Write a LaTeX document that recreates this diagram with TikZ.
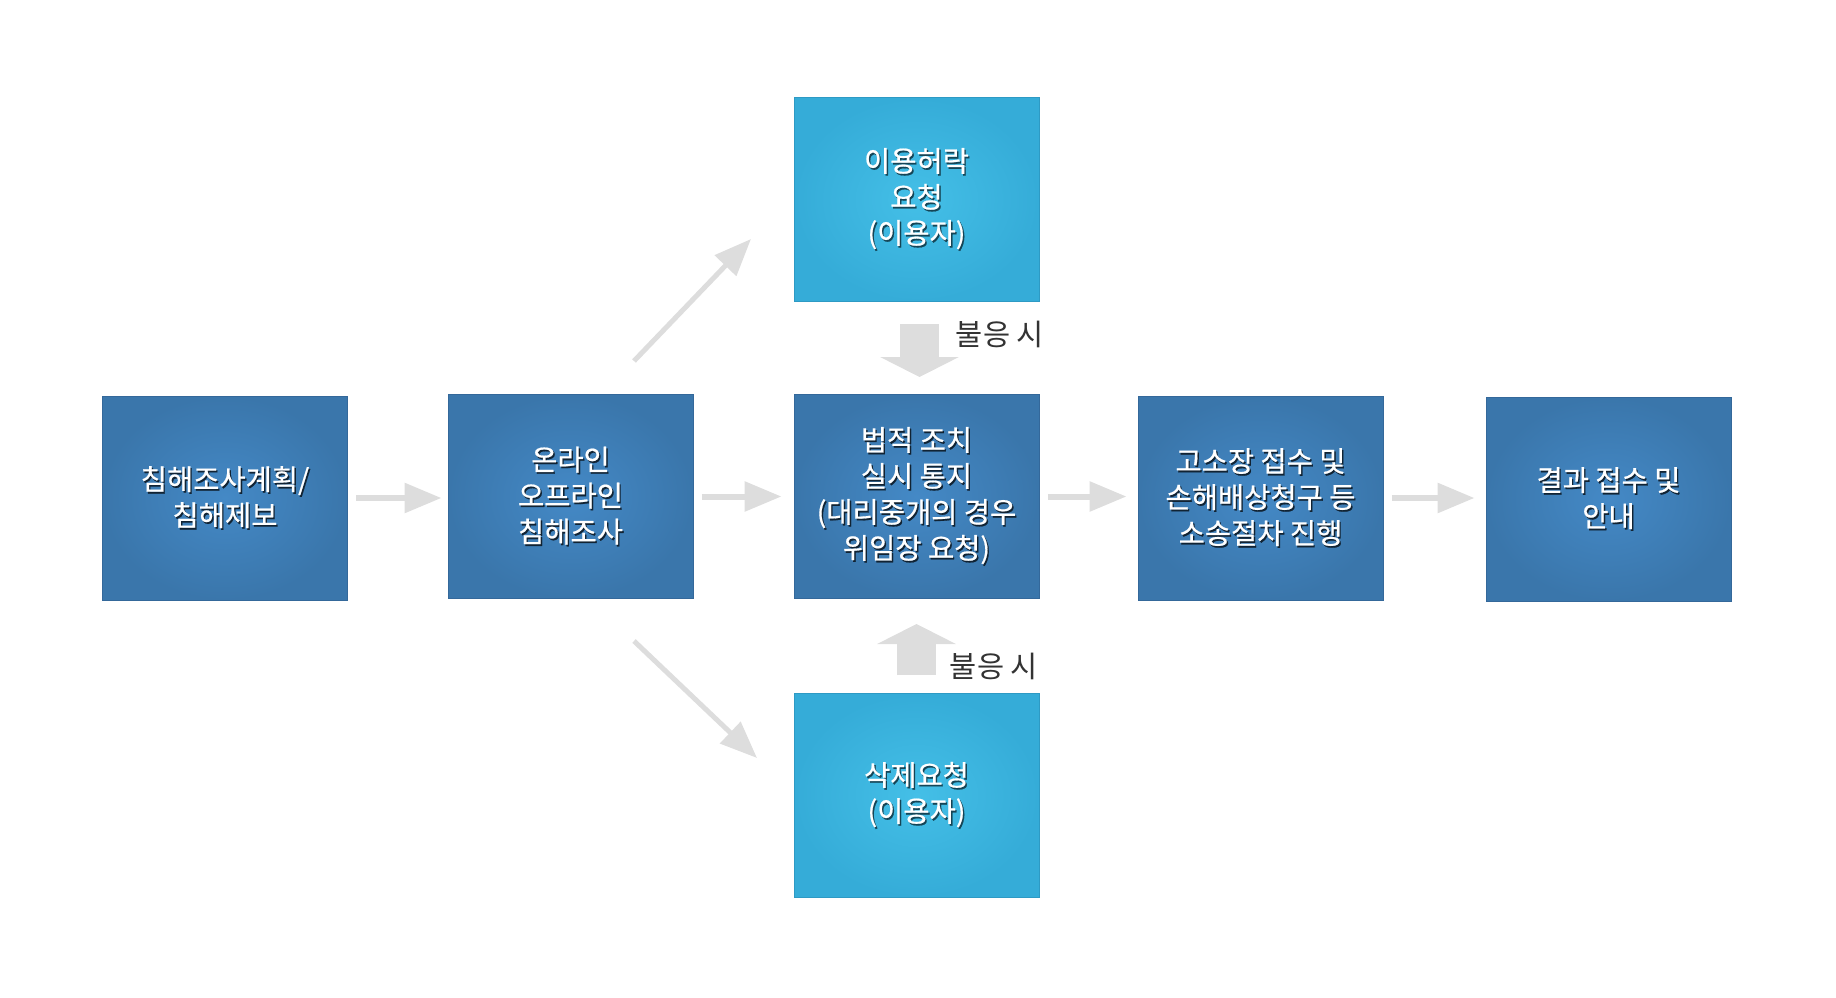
\documentclass[tikz,border=0pt]{standalone}
\usepackage{fontspec}
\setmainfont{Noto Sans CJK KR}[FakeBold=0.6]
\newfontfamily\lblfont{Noto Sans CJK KR}
\usetikzlibrary{arrows.meta}
\definecolor{darkin}{HTML}{4489C6}
\definecolor{darkout}{HTML}{3A76AB}
\definecolor{darkedge}{HTML}{34689A}
\definecolor{lightin}{HTML}{44BFE7}
\definecolor{lightout}{HTML}{35ACD8}
\definecolor{lightedge}{HTML}{2E9AC4}
\definecolor{arrowgray}{HTML}{DDDDDD}
\definecolor{labelgray}{HTML}{333333}
\colorlet{shadowc}{black}
\newcommand{\sh}[1]{\leavevmode\rlap{\kern1.4pt\raisebox{-1.8pt}{\color{shadowc}#1}}#1}
\begin{document}
\begin{tikzpicture}[x=1pt,y=-1pt,
  box/.style={minimum width=245pt, minimum height=204pt, inner sep=0pt,
    text=white, font=\fontsize{28.5}{36}\selectfont, align=center, line width=1pt},
  darkbox/.style={box, inner color=darkin, outer color=darkout, draw=darkedge,
    execute at begin node={\colorlet{shadowc}{black!70!darkout}}},
  lightbox/.style={box, inner color=lightin, outer color=lightout, draw=lightedge,
    execute at begin node={\colorlet{shadowc}{black!60!lightout}}},
  flowarrow/.style={draw=arrowgray, line width=6pt, -{Triangle[length=37pt,width=29pt]}},
  diagarrow/.style={draw=arrowgray, line width=5pt, -{Triangle[length=37pt,width=29pt]}},
  blockarrow/.style={draw=arrowgray, line width=39pt, -{Triangle[length=20pt,width=78pt]}},
  lbl/.style={text=labelgray, font=\lblfont\fontsize{29.5}{34}\selectfont, inner sep=0pt}
]
\useasboundingbox (0,0) rectangle (1836,998);

\node[darkbox] (b1) at (225,498) {\sh{침해조사계획/}\\\sh{침해제보}};
\node[darkbox] (b2) at (570.5,496.5) {\sh{온라인}\\\sh{오프라인}\\\sh{침해조사}};
\node[darkbox] (b3) at (916.5,496.5) {\sh{법적 조치}\\\sh{실시 통지}\\\sh{(대리중개의 경우}\\\sh{위임장 요청)}};
\node[darkbox] (b4) at (1260.5,498) {\sh{고소장 접수 및}\\\sh{손해배상청구 등}\\\sh{소송절차 진행}};
\node[darkbox] (b5) at (1608.5,499) {\sh{결과 접수 및}\\\sh{안내}};
\node[lightbox] (top) at (916.5,199.5) {\sh{이용허락}\\\sh{요청}\\\sh{(이용자)}};
\node[lightbox] (bot) at (916.5,795.5) {\sh{삭제요청}\\\sh{(이용자)}};

\node[lbl] (l1) at (1000,334) {불응 시};
\node[lbl] (l2) at (994,666) {불응 시};

\draw[flowarrow, shorten <=8pt, shorten >=6pt] (b1.east) -- (b1.east -| b2.west);
\draw[flowarrow, shorten <=8pt, shorten >=12pt] (b2.east) -- (b2.east -| b3.west);
\draw[flowarrow, shorten <=8pt, shorten >=11pt] (b3.east) -- (b3.east -| b4.west);
\draw[flowarrow, shorten <=8pt, shorten >=11pt] (b4.east) -- (b4.east -| b5.west);

\coordinate (u1) at (634,361);
\coordinate (u2) at (751,239);
\coordinate (d1) at (634,641);
\coordinate (d2) at (757,758);
\draw[diagarrow] (u1) -- (u2);
\draw[diagarrow] (d1) -- (d2);

\draw[blockarrow, shorten <=22pt, shorten >=17pt] ([xshift=3pt]top.south) -- ([xshift=3pt]b3.north);
\draw[blockarrow, shorten <=18pt, shorten >=25pt] (bot.north) -- (b3.south);
\end{tikzpicture}
\end{document}
